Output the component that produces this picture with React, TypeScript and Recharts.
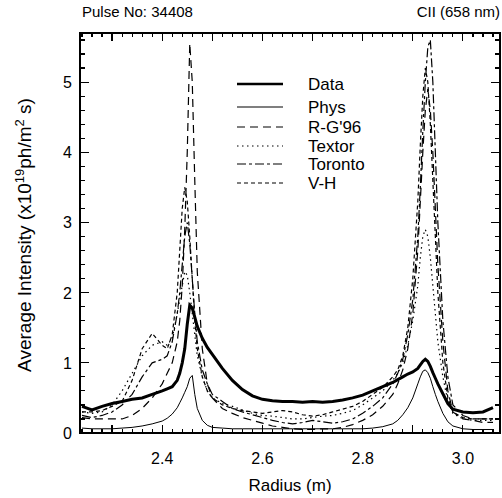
import React from 'react';
import { LineChart, Line, XAxis, YAxis } from 'recharts';

const radius = [
  2.24, 2.26, 2.28, 2.30, 2.32, 2.34, 2.36, 2.38, 2.40, 2.41, 2.42, 2.43, 2.435, 2.44, 2.445, 2.45,
  2.455, 2.46, 2.465, 2.47, 2.48, 2.49, 2.50, 2.52, 2.54, 2.56, 2.58, 2.60, 2.62, 2.64, 2.66, 2.68,
  2.70, 2.72, 2.74, 2.76, 2.78, 2.80, 2.82, 2.84, 2.86, 2.87, 2.88, 2.89, 2.90, 2.91, 2.915, 2.92,
  2.925, 2.93, 2.935, 2.94, 2.945, 2.95, 2.96, 2.97, 2.98, 3.00, 3.02, 3.04, 3.06,
];

const measured = [
  0.38, 0.33, 0.38, 0.42, 0.45, 0.48, 0.50, 0.55, 0.60, 0.63, 0.66, 0.75, 0.85, 1.0, 1.2, 1.55,
  1.82, 1.78, 1.65, 1.52, 1.35, 1.22, 1.12, 0.92, 0.75, 0.62, 0.53, 0.48, 0.46, 0.45, 0.45, 0.44,
  0.45, 0.44, 0.45, 0.47, 0.50, 0.54, 0.60, 0.66, 0.72, 0.76, 0.80, 0.84, 0.87, 0.92, 0.97, 1.02,
  1.05, 1.02, 0.95, 0.86, 0.78, 0.70, 0.56, 0.42, 0.34, 0.30, 0.29, 0.30, 0.36,
];

const phys = [
  0.07, 0.06, 0.06, 0.06, 0.07, 0.08, 0.10, 0.13, 0.17, 0.21, 0.27, 0.36, 0.43, 0.50, 0.58, 0.66,
  0.78, 0.82, 0.55, 0.35, 0.18, 0.11, 0.08, 0.07, 0.06, 0.06, 0.06, 0.06, 0.06, 0.06, 0.06, 0.06,
  0.06, 0.06, 0.06, 0.06, 0.06, 0.06, 0.07, 0.09, 0.13, 0.18, 0.26, 0.36, 0.50, 0.70, 0.80, 0.88,
  0.90, 0.86, 0.78, 0.66, 0.55, 0.45, 0.28, 0.16, 0.10, 0.06, 0.05, 0.05, 0.05,
];

const rg96 = [
  0.22, 0.20, 0.20, 0.20, 0.20, 0.25, 0.35, 0.50, 0.70, 0.85, 1.0, 1.3, 1.6, 2.1, 2.9, 4.0,
  5.55, 5.0, 3.6, 2.3, 1.2, 0.70, 0.50, 0.35, 0.28, 0.22, 0.18, 0.14, 0.10, 0.08, 0.06, 0.05,
  0.05, 0.06, 0.06, 0.08, 0.12, 0.18, 0.26, 0.38, 0.55, 0.70, 0.90, 1.2, 1.7, 2.6, 3.3, 4.0,
  4.6, 4.9, 4.6, 4.0, 3.2, 2.4, 1.3, 0.60, 0.30, 0.20, 0.18, 0.15, 0.15,
];

const textor = [
  0.30, 0.28, 0.30, 0.40, 0.60, 0.85, 1.1, 1.25, 1.3, 1.25, 1.35, 1.7, 1.9, 2.1, 2.3, 2.25,
  2.0, 1.7, 1.4, 1.1, 0.80, 0.60, 0.50, 0.42, 0.38, 0.33, 0.28, 0.25, 0.24, 0.22, 0.20, 0.20,
  0.22, 0.24, 0.25, 0.28, 0.32, 0.40, 0.50, 0.60, 0.75, 0.85, 1.0, 1.25, 1.6, 2.1, 2.5, 2.8,
  2.9, 2.8, 2.5, 2.1, 1.7, 1.3, 0.80, 0.45, 0.28, 0.20, 0.18, 0.18, 0.18,
];

const toronto = [
  0.25, 0.22, 0.25, 0.30, 0.40, 0.55, 0.80, 1.0, 1.05, 1.1, 1.3, 1.7, 2.0, 2.4, 2.8, 3.0,
  2.7, 2.2, 1.7, 1.3, 0.90, 0.70, 0.55, 0.45, 0.35, 0.30, 0.26, 0.22, 0.18, 0.15, 0.13, 0.15,
  0.18, 0.16, 0.14, 0.16, 0.20, 0.28, 0.38, 0.50, 0.70, 0.85, 1.05, 1.4, 1.9, 2.8, 3.5, 4.3,
  5.0, 5.5, 5.6, 5.0, 4.0, 3.0, 1.6, 0.80, 0.40, 0.25, 0.20, 0.20, 0.20,
];

const vh = [
  0.30, 0.30, 0.32, 0.38, 0.45, 0.75, 1.2, 1.42, 1.25, 1.2, 1.4, 2.0, 2.6, 3.2, 3.5, 3.3,
  2.8, 2.2, 1.6, 1.2, 0.80, 0.60, 0.50, 0.40, 0.35, 0.32, 0.30, 0.28, 0.30, 0.32, 0.30, 0.26,
  0.24, 0.26, 0.30, 0.34, 0.38, 0.45, 0.55, 0.65, 0.80, 0.90, 1.1, 1.5, 2.2, 3.3, 4.1, 4.8,
  5.2, 5.0, 4.4, 3.6, 2.8, 2.0, 1.0, 0.50, 0.30, 0.22, 0.20, 0.20, 0.20,
];

const xTicks = [
  2.24, 2.26, 2.28, 2.30, 2.32, 2.34, 2.36, 2.38, 2.40, 2.42, 2.44, 2.46, 2.48, 2.50, 2.52, 2.54,
  2.56, 2.58, 2.60, 2.62, 2.64, 2.66, 2.68, 2.70, 2.72, 2.74, 2.76, 2.78, 2.80, 2.82, 2.84, 2.86,
  2.88, 2.90, 2.92, 2.94, 2.96, 2.98, 3.00, 3.02, 3.04, 3.06,
];
const xLabels = [2.4, 2.6, 2.8, 3.0];

const yTicks = [
  0, 0.2, 0.4, 0.6, 0.8, 1, 1.2, 1.4, 1.6, 1.8, 2, 2.2, 2.4, 2.6, 2.8, 3, 3.2, 3.4, 3.6, 3.8,
  4, 4.2, 4.4, 4.6, 4.8, 5, 5.2, 5.4, 5.6,
];
const yLabels = [0, 1, 2, 3, 4, 5];

const X_MIN = 2.236;
const X_MAX = 3.074;
const Y_MIN = 0;
const Y_MAX = 5.7;

// plot box inside the 502x498 chart
const W = 502;
const H = 498;
const PLOT = { left: 80, top: 33, right: 500, bottom: 433 };
const Y_AXIS_W = 40;
const X_AXIS_H = 40;

const chartData = radius.map((r, i) => ({
  r,
  data: measured[i],
  phys: phys[i],
  rg: rg96[i],
  textor: textor[i],
  toronto: toronto[i],
  vh: vh[i],
}));

const series = [
  { key: 'data', name: 'Data', width: 3, dash: undefined },
  { key: 'phys', name: 'Phys', width: 1, dash: undefined },
  { key: 'rg', name: "R-G'96", width: 1.2, dash: '8 5' },
  { key: 'textor', name: 'Textor', width: 1.2, dash: '1.5 3.5' },
  { key: 'toronto', name: 'Toronto', width: 1.2, dash: '9 3 3 3' },
  { key: 'vh', name: 'V-H', width: 1.2, dash: '4 3' },
];
const legendRows = [84, 107, 127, 146, 164, 183];

const FONT = '"Liberation Sans", Arial, sans-serif';

const near = (v: number, step: number) => Math.abs(v / step - Math.round(v / step)) < 1e-6;

// same linear mapping as the chart's axes, used for the frame ticks
const px = (v: number) => PLOT.left + ((v - X_MIN) / (X_MAX - X_MIN)) * (PLOT.right - PLOT.left);
const py = (v: number) => PLOT.bottom - ((v - Y_MIN) / (Y_MAX - Y_MIN)) * (PLOT.bottom - PLOT.top);

const XLabel = (props: any) => {
  const { x, y, payload } = props;
  const v = payload.value;
  if (!xLabels.some((l) => Math.abs(l - v) < 1e-6)) return <g />;
  return (
    <text x={x} y={y + 31} textAnchor="middle" fontSize={16} fontFamily={FONT} fill="#000">
      {v.toFixed(1)}
    </text>
  );
};

const YLabel = (props: any) => {
  const { x, y, payload } = props;
  const v = payload.value;
  if (!(near(v, 1) && yLabels.includes(Math.round(v)))) return <g />;
  return (
    <text x={x - 8} y={y + 6} textAnchor="end" fontSize={16} fontFamily={FONT} fill="#000">
      {Math.round(v)}
    </text>
  );
};

const bar = (left: number, top: number, width: number, height: number, key: string) => (
  <div key={key} style={{ position: 'absolute', left, top, width, height, background: '#000' }} />
);

// frame and inward ticks as plain boxes
const Frame = () => {
  const bw = 1.5;
  const items = [
    bar(PLOT.left - 0.75, PLOT.top - 0.75, PLOT.right - PLOT.left + bw, bw, 'top'),
    bar(PLOT.left - 0.75, PLOT.bottom - 0.75, PLOT.right - PLOT.left + bw, bw, 'bottom'),
    bar(PLOT.left - 0.75, PLOT.top - 0.75, bw, PLOT.bottom - PLOT.top + bw, 'left'),
    bar(PLOT.right - 0.75, PLOT.top - 0.75, bw, PLOT.bottom - PLOT.top + bw, 'right'),
  ];
  xTicks.forEach((v) => {
    const len = near(v, 0.1) ? 8 : 4;
    items.push(bar(px(v) - 0.6, PLOT.bottom - len, 1.2, len, `xb${v}`));
    items.push(bar(px(v) - 0.6, PLOT.top, 1.2, len, `xt${v}`));
  });
  yTicks.forEach((v) => {
    const len = near(v, 1) ? 9 : 5;
    items.push(bar(PLOT.left, py(v) - 0.6, len, 1.2, `yl${v}`));
    items.push(bar(PLOT.right - len, py(v) - 0.6, len, 1.2, `yr${v}`));
  });
  return <div style={{ position: 'absolute', left: 0, top: 0, width: W, height: H, pointerEvents: 'none' }}>{items}</div>;
};

const LegendBox = () => (
  <svg style={{ position: 'absolute', left: 0, top: 0 }} width={W} height={H}>
    {series.map((s, i) => (
      <g key={s.key}>
        <line
          x1={237}
          x2={283}
          y1={legendRows[i]}
          y2={legendRows[i]}
          stroke="#000"
          strokeWidth={s.width === 3 ? 2.5 : 1.2}
          strokeDasharray={s.dash}
        />
        <text x={308} y={legendRows[i] + 6} fontSize={17} fontFamily={FONT} fill="#000">
          {s.name}
        </text>
      </g>
    ))}
  </svg>
);

export default function App() {
  return (
    <div style={{ position: 'absolute', left: 0, top: 0, width: W, height: H, background: '#fff', fontFamily: FONT }}>
      <LineChart
        width={W}
        height={H}
        data={chartData}
        margin={{
          top: PLOT.top,
          right: W - PLOT.right,
          bottom: H - PLOT.bottom - X_AXIS_H,
          left: PLOT.left - Y_AXIS_W,
        }}
      >
        <XAxis
          dataKey="r"
          type="number"
          domain={[X_MIN, X_MAX]}
          allowDataOverflow
          ticks={xTicks}
          interval={0}
          height={X_AXIS_H}
          tickSize={0}
          tickMargin={0}
          tickLine={false}
          axisLine={false}
          tick={<XLabel />}
        />
        <YAxis
          type="number"
          domain={[Y_MIN, Y_MAX]}
          allowDataOverflow
          ticks={yTicks}
          interval={0}
          width={Y_AXIS_W}
          tickSize={0}
          tickMargin={0}
          tickLine={false}
          axisLine={false}
          tick={<YLabel />}
        />
        {series
          .slice()
          .reverse()
          .map((s) => (
            <Line
              key={s.key}
              dataKey={s.key}
              name={s.name}
              type="linear"
              stroke="#000"
              strokeWidth={s.width}
              strokeDasharray={s.dash}
              dot={false}
              activeDot={false}
              isAnimationActive={false}
            />
          ))}
      </LineChart>
      <Frame />
      <LegendBox />
      <div style={{ position: 'absolute', left: 82, top: 3, fontSize: 15 }}>Pulse No: 34408</div>
      <div style={{ position: 'absolute', right: 2, top: 3, fontSize: 15 }}>CII (658 nm)</div>
      <div style={{ position: 'absolute', left: 80, width: 420, top: 476, fontSize: 17, textAlign: 'center' }}>
        Radius (m)
      </div>
      <div
        style={{
          position: 'absolute',
          left: 24,
          top: 235,
          width: 380,
          fontSize: 19,
          textAlign: 'center',
          whiteSpace: 'nowrap',
          transform: 'translate(-50%, -50%) rotate(-90deg)',
        }}
      >
        Average Intensity (x10<sup style={{ fontSize: 13 }}>19</sup>ph/m<sup style={{ fontSize: 13 }}>2</sup> s)
      </div>
    </div>
  );
}
